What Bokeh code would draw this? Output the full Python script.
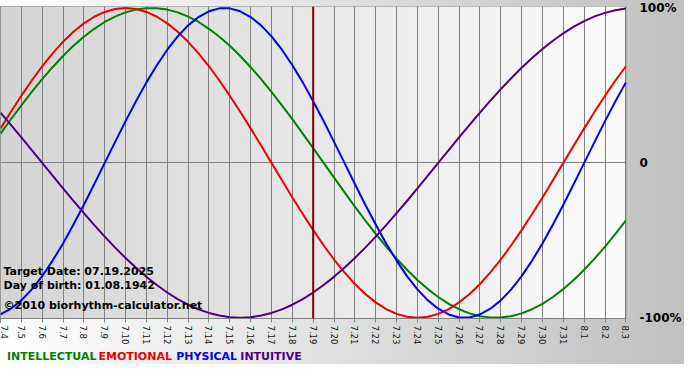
import math
from bokeh.plotting import figure
from bokeh.layouts import column
from bokeh.models import Range1d, FixedTicker, Span, Label, LinearAxis
from bokeh.core.properties import value
from bokeh.embed import file_html
from bokeh.resources import INLINE

# ---- data ----
dates = ["7.4", "7.5", "7.6", "7.7", "7.8", "7.9", "7.10", "7.11", "7.12", "7.13",
         "7.14", "7.15", "7.16", "7.17", "7.18", "7.19", "7.20", "7.21", "7.22", "7.23",
         "7.24", "7.25", "7.26", "7.27", "7.28", "7.29", "7.30", "7.31", "8.1", "8.2", "8.3"]

# values read every half day, from 7.4 to 8.3
intellectual = [0.189, 0.282, 0.372, 0.458, 0.541, 0.618, 0.690, 0.756, 0.815, 0.866,
                0.910, 0.945, 0.972, 0.990, 0.999, 0.999, 0.990, 0.972, 0.945, 0.910,
                0.866, 0.815, 0.756, 0.690, 0.618, 0.541, 0.458, 0.372, 0.282, 0.189,
                0.095, 0.000, -0.095, -0.189, -0.282, -0.372, -0.458, -0.541, -0.618, -0.690,
                -0.756, -0.815, -0.866, -0.910, -0.945, -0.972, -0.990, -0.999, -0.999, -0.990,
                -0.972, -0.945, -0.910, -0.866, -0.815, -0.756, -0.690, -0.618, -0.541, -0.458, -0.372]

emotional = [0.223, 0.330, 0.434, 0.532, 0.624, 0.707, 0.782, 0.847, 0.901, 0.944,
             0.975, 0.994, 1.000, 0.994, 0.975, 0.944, 0.901, 0.847, 0.782, 0.707,
             0.624, 0.532, 0.434, 0.330, 0.223, 0.112, 0.000, -0.112, -0.223, -0.330,
             -0.434, -0.532, -0.624, -0.707, -0.782, -0.847, -0.901, -0.944, -0.975, -0.994,
             -1.000, -0.994, -0.975, -0.944, -0.901, -0.847, -0.782, -0.707, -0.624, -0.532,
             -0.434, -0.330, -0.223, -0.112, 0.000, 0.112, 0.223, 0.330, 0.434, 0.532, 0.624]

physical = [-0.979, -0.942, -0.888, -0.817, -0.731, -0.631, -0.520, -0.398, -0.270, -0.136,
            0.000, 0.136, 0.270, 0.398, 0.520, 0.631, 0.731, 0.817, 0.888, 0.942,
            0.979, 0.998, 0.998, 0.979, 0.942, 0.888, 0.817, 0.731, 0.631, 0.520,
            0.398, 0.270, 0.136, 0.000, -0.136, -0.270, -0.398, -0.520, -0.631, -0.731,
            -0.817, -0.888, -0.942, -0.979, -0.998, -0.998, -0.979, -0.942, -0.888, -0.817,
            -0.731, -0.631, -0.520, -0.398, -0.270, -0.136, 0.000, 0.136, 0.270, 0.398, 0.520]

intuitive = [0.325, 0.246, 0.165, 0.083, 0.000, -0.083, -0.165, -0.246, -0.325, -0.402,
             -0.476, -0.547, -0.614, -0.677, -0.736, -0.789, -0.837, -0.880, -0.916, -0.946,
             -0.969, -0.986, -0.997, -1.000, -0.997, -0.986, -0.969, -0.946, -0.916, -0.880,
             -0.837, -0.789, -0.736, -0.677, -0.614, -0.547, -0.476, -0.402, -0.325, -0.246,
             -0.165, -0.083, 0.000, 0.083, 0.165, 0.246, 0.325, 0.402, 0.476, 0.547,
             0.614, 0.677, 0.736, 0.789, 0.837, 0.880, 0.916, 0.946, 0.969, 0.986, 0.997]

target_date = "7.19"
series_names = ["INTELLECTUAL", "EMOTIONAL", "PHYSICAL", "INTUITIVE"]
y_labels = {1: "100%", 0: "0", -1: "-100%"}
info_lines = ["Target Date: 07.19.2025", "Day of birth: 01.08.1942",
              "\u00a92010 biorhythm-calculator.net"]

# ---- styles ----
colors = ["#008000", "#ee0000", "#0000ee", "#4b0082"]
FONT = "DejaVu Sans"
BG_CSS = {"background": "linear-gradient(to right, #ffffff, #c0c0c0)"}

days = list(range(len(dates)))
half_days = [i / 2 for i in range(2 * len(dates) - 1)]
x_end = days[-1] + 0.03

p = figure(width=684, height=348, output_backend="svg", toolbar_location=None,
           x_range=Range1d(0, x_end), y_range=Range1d(-1.005, 1.01),
           y_axis_location=None, min_border_left=0, min_border_top=6,
           min_border_right=48, min_border_bottom=30)
p.styles = BG_CSS
p.border_fill_alpha = 0
p.background_fill_color = "#e6e6e6"
p.outline_line_color = "#808080"

# frame gradient (gray left -> white right)
n = 120
xs0, xs1, cols = [], [], []
for i in range(n):
    a = x_end * i / n
    b = x_end * (i + 1) / n + 0.01
    c = int(round(0xd4 + (0xfb - 0xd4) * i / (n - 1)))
    xs0.append(a); xs1.append(b); cols.append("#%02x%02x%02x" % (c, c, c))
bg = p.quad(left=xs0, right=xs1, bottom=-2, top=2, fill_color=cols, line_color=None)
bg.level = "image"

# grid
p.xgrid.ticker = FixedTicker(ticks=days)
p.xgrid.grid_line_color = "#808080"
p.ygrid.ticker = FixedTicker(ticks=[0])
p.ygrid.grid_line_color = "#808080"

# x axis
ax = p.xaxis[0]
ax.ticker = FixedTicker(ticks=days)
ax.major_label_overrides = {d: lab for d, lab in zip(days, dates)}
ax.major_label_orientation = -math.pi / 2
ax.major_label_text_font = FONT
ax.major_label_text_font_size = "8.5px"
ax.major_label_text_color = "#111111"
ax.major_label_standoff = 3
ax.axis_line_color = "#808080"
ax.major_tick_line_color = "#808080"
ax.major_tick_out = 4
ax.major_tick_in = 0
ax.minor_tick_line_color = None

# right axis with percentage labels
ra = LinearAxis(ticker=FixedTicker(ticks=list(y_labels.keys())),
                major_label_overrides=y_labels)
ra.axis_line_color = None
ra.major_tick_line_color = None
ra.minor_tick_line_color = None
ra.major_label_standoff = 7
ra.major_label_text_font = FONT
ra.major_label_text_font_size = "12px"
ra.major_label_text_font_style = "bold"
ra.major_label_text_color = "#000000"
p.add_layout(ra, "right")

# curves
for vals, col in zip([intellectual, emotional, physical, intuitive], colors):
    p.line(half_days, vals, line_color=col, line_width=2, line_join="round")

# target marker
p.add_layout(Span(location=dates.index(target_date), dimension="height",
                  line_color="#800000", line_width=2))

# info text
for txt, yv in zip(info_lines, [-0.70, -0.795, -0.92]):
    p.add_layout(Label(x=0, y=yv, x_offset=3, text=txt, text_font=FONT,
                       text_font_size="11px", text_font_style="bold", text_color="#000000",
                       text_baseline="middle", text_align="left"))

# legend strip
leg = figure(width=684, height=16, output_backend="svg", toolbar_location=None,
             x_range=Range1d(0, 684), y_range=Range1d(0, 16),
             x_axis_location=None, y_axis_location=None, min_border=0)
leg.styles = BG_CSS
leg.border_fill_alpha = 0
leg.background_fill_alpha = 0
leg.outline_line_color = None
leg.grid.visible = False
leg.text(x=[7, 107, 192, 262], y=[8, 8, 8, 8], text=series_names,
         text_color=colors, text_font=value(FONT), text_font_size="11px",
         text_font_style="bold", text_baseline="middle", text_align="left")

open("out.html", "w").write(file_html(column(p, leg, spacing=0), INLINE))
